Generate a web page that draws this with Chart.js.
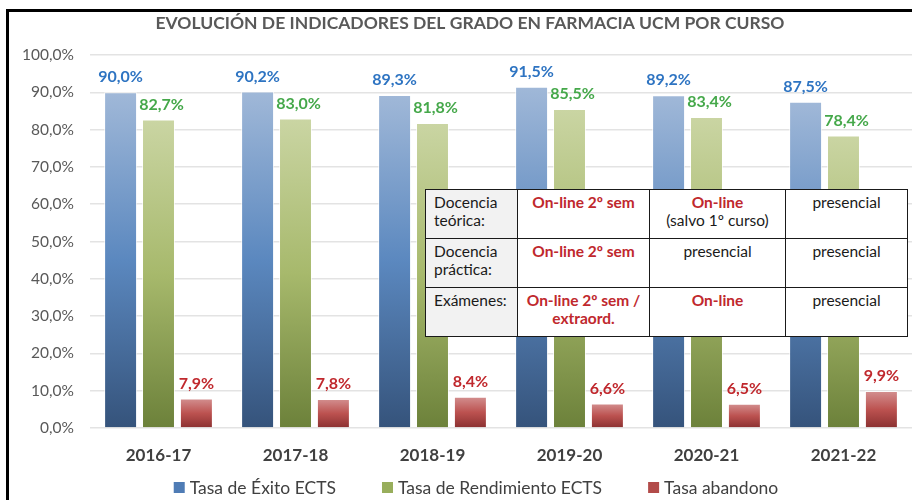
<!DOCTYPE html>
<html>
<head>
<meta charset="utf-8">
<script src="https://cdn.jsdelivr.net/npm/chart.js@4"></script>
<style>
  body { margin: 0; background: #fff; }
  #wrap { position: relative; width: 912px; height: 500px; overflow: hidden; }
  #marco { position: absolute; left: 6px; top: 9px; width: 920px; height: 500px;
           border-left: 3px solid #000; border-top: 3px solid #000; pointer-events: none; }
  #tabla { position: absolute; left: 425px; top: 189px; border-collapse: collapse;
           font-family: Lato, "Open Sans", sans-serif; font-size: 15.5px; color: #1a1a1a; background: #fff; }
  #tabla td { border: 1.5px solid #1a1a1a; vertical-align: top; text-align: center;
              padding: 3px 4px 0 4px; height: 45px; line-height: 18px; }
  #tabla td.cab { background: #f2f2f2; text-align: left; padding-left: 8px; }
  #tabla .rojo { color: #c0282d; font-weight: bold; }
</style>
</head>
<body>
<div id="wrap">
  <canvas id="graficaIndicadores" width="912" height="500"></canvas>
  <table id="tabla">
    <tr>
      <td class="cab" style="width:79px">Docencia<br>teórica:</td>
      <td style="width:123px"><span class="rojo">On-line 2º sem</span></td>
      <td style="width:127px"><span class="rojo">On-line</span><br>(salvo 1º curso)</td>
      <td style="width:113px">presencial</td>
    </tr>
    <tr>
      <td class="cab">Docencia<br>práctica:</td>
      <td><span class="rojo">On-line 2º sem</span></td>
      <td>presencial</td>
      <td>presencial</td>
    </tr>
    <tr>
      <td class="cab">Exámenes:</td>
      <td><span class="rojo">On-line 2º sem /<br>extraord.</span></td>
      <td><span class="rojo">On-line</span></td>
      <td>presencial</td>
    </tr>
  </table>
  <div id="marco"></div>
</div>
<script>
// datos
const cursos = ['2016-17', '2017-18', '2018-19', '2019-20', '2020-21', '2021-22'];
const tasaExito = [90.0, 90.2, 89.3, 91.5, 89.2, 87.5];
const tasaRendimiento = [82.7, 83.0, 81.8, 85.5, 83.4, 78.4];
const tasaAbandono = [7.9, 7.8, 8.4, 6.6, 6.5, 9.9];
const ticksY = [0, 10, 20, 30, 40, 50, 60, 70, 80, 90, 100];

const TITULO = 'EVOLUCIÓN DE INDICADORES DEL GRADO EN FARMACIA UCM POR CURSO';
const FUENTE = 'Lato, "Open Sans", sans-serif';

function formato(v) {
    return v.toFixed(1).replace('.', ',') + '%';
}

// degradado por barra (claro arriba, oscuro abajo)
function degradado(colores) {
    return function (context) {
        const chart = context.chart;
        if (!chart.chartArea || context.raw === undefined) return colores[1];
        const y = chart.scales.y;
        const top = y.getPixelForValue(context.raw);
        const bottom = y.getPixelForValue(0);
        if (!isFinite(top) || !isFinite(bottom) || bottom - top < 1) return colores[1];
        const g = chart.ctx.createLinearGradient(0, top, 0, bottom);
        g.addColorStop(0, colores[0]);
        g.addColorStop(0.5, colores[1]);
        g.addColorStop(1, colores[2]);
        return g;
    };
}

// titulo, leyenda y etiquetas de valor
const textos = {
    id: 'textos',
    afterDraw(chart) {
        const ctx = chart.ctx;
        ctx.save();
        ctx.font = 'bold 17.5px ' + FUENTE;
        ctx.fillStyle = '#595959';
        ctx.textAlign = 'center';
        ctx.textBaseline = 'middle';
        ctx.fillText(TITULO, 470, 23);

        // leyenda
        ctx.font = '17.5px ' + FUENTE;
        ctx.textAlign = 'left';
        ctx.textBaseline = 'alphabetic';
        const items = chart.data.datasets.map(ds => ({ texto: ds.label, color: ds.colorLeyenda, w: ctx.measureText(ds.label).width }));
        const total = items.reduce((s, it) => s + 11 + 5 + it.w, 0) + 46 * (items.length - 1);
        let x = 476 - total / 2;
        items.forEach(it => {
            ctx.fillStyle = it.color;
            ctx.fillRect(x, 482, 11, 11);
            ctx.fillStyle = '#404040';
            ctx.fillText(it.texto, x + 16, 494);
            x += 16 + it.w + 46;
        });
        ctx.restore();
    },
    afterDatasetsDraw(chart) {
        const ctx = chart.ctx;
        ctx.save();
        ctx.font = 'bold 16px ' + FUENTE;
        ctx.textAlign = 'center';
        ctx.textBaseline = 'bottom';
        chart.data.datasets.forEach((ds, i) => {
            const meta = chart.getDatasetMeta(i);
            ctx.fillStyle = ds.colorEtiqueta;
            meta.data.forEach((bar, j) => {
                ctx.fillText(formato(ds.data[j]), bar.x + (i === 1 ? 3 : 0), bar.y - 7);
            });
        });
        ctx.restore();
    }
};

const ctx = document.getElementById('graficaIndicadores').getContext('2d');

new Chart(ctx, {
    type: 'bar',
    data: {
        labels: cursos,
        datasets: [{
            label: 'Tasa de Éxito ECTS',
            data: tasaExito,
            backgroundColor: degradado(['#a0b8d8', '#5b88bf', '#35537b']),
            borderColor: 'rgba(255,255,255,0.7)',
            borderWidth: 1,
            colorEtiqueta: '#2e74c2',
            colorLeyenda: '#4f7cb5'
        }, {
            label: 'Tasa de Rendimiento ECTS',
            data: tasaRendimiento,
            backgroundColor: degradado(['#cad5a3', '#a7b96c', '#6c813a']),
            borderColor: 'rgba(255,255,255,0.7)',
            borderWidth: 1,
            colorEtiqueta: '#45a84a',
            colorLeyenda: '#98ae5c'
        }, {
            label: 'Tasa abandono',
            data: tasaAbandono,
            backgroundColor: degradado(['#d39090', '#bc5250', '#8a3030']),
            borderColor: 'rgba(255,255,255,0.7)',
            borderWidth: 1,
            colorEtiqueta: '#c0282d',
            colorLeyenda: '#b24b49'
        }]
    },
    options: {
        responsive: false,
        animation: false,
        categoryPercentage: 0.83,
        barPercentage: 0.87,
        layout: { padding: { left: 12, right: 0, top: 55, bottom: 32 } },
        plugins: {
            title: { display: false },
            legend: { display: false },
            tooltip: { enabled: false }
        },
        scales: {
            x: {
                grid: { display: false },
                border: { display: false },
                ticks: {
                    color: '#404040',
                    font: { family: FUENTE, size: 17, weight: 'bold' },
                    padding: 9
                },
                afterFit(scale) { scale.height = 40; }
            },
            y: {
                min: 0,
                max: 100,
                afterBuildTicks(scale) { scale.ticks = ticksY.map(v => ({ value: v })); },
                grid: { color: '#e3e3e3', lineWidth: 1.5, drawTicks: false },
                border: { display: false },
                ticks: {
                    color: '#595959',
                    font: { family: FUENTE, size: 15.5 },
                    padding: 16,
                    callback: v => formato(v)
                },
                afterFit(scale) { scale.width = 78; }
            }
        }
    },
    plugins: [textos]
});
</script>
</body>
</html>
